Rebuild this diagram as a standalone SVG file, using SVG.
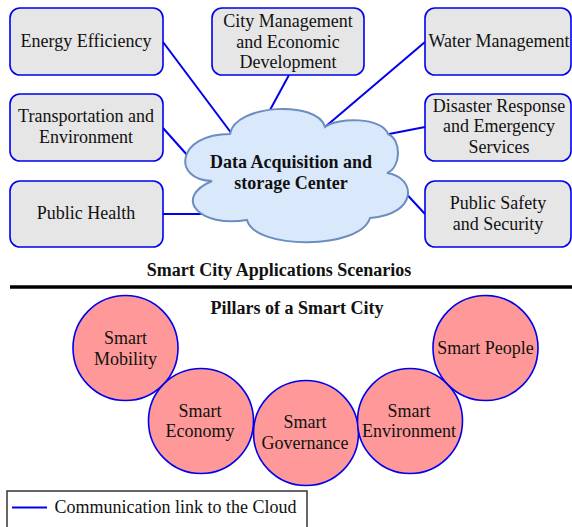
<svg xmlns="http://www.w3.org/2000/svg" width="572" height="527" viewBox="0 0 572 527">
  <style>
    .box { fill: #e6e6e6; stroke: #0000ee; stroke-width: 1.6; }
    .txt { font-family: "Liberation Serif", "Times New Roman", serif; font-size: 18px; fill: #111; text-anchor: middle; }
    .bold { font-weight: bold; }
    .link { stroke: #0000ee; stroke-width: 2; fill: none; }
    .pillar { fill: #ff9999; stroke: #0000ee; stroke-width: 1.6; }
  </style>
  <rect width="572" height="527" fill="#ffffff"/>

  <!-- links from each application area to the cloud -->
  <g id="connectors">
    <line class="link" x1="163" y1="42" x2="232" y2="134"/>
    <line class="link" x1="289" y1="75" x2="270" y2="110"/>
    <line class="link" x1="163" y1="128" x2="188" y2="156"/>
    <line class="link" x1="163" y1="214" x2="204" y2="214"/>
    <line class="link" x1="425" y1="42" x2="325" y2="127"/>
    <line class="link" x1="425" y1="127" x2="389" y2="134"/>
    <line class="link" x1="425" y1="214" x2="387" y2="173"/>
  </g>

  <!-- central cloud -->
  <g id="cloud">
    <path d="M230,134 C235,104 318,100 325,127 C338,117 382,117 388,134 C402,140 401,168 387,173 C416,177 419,214 370,218 C360,250 255,250 247,220 C200,228 172,198 212,181 C172,180 176,134 230,134 Z" fill="#dae8fc" stroke="#6c8ebf" stroke-width="2"/>
    <text class="txt bold" x="291" y="168">Data Acquisition and</text>
    <text class="txt bold" x="291" y="189">storage Center</text>
  </g>

  <g id="energy">
    <rect class="box" x="10" y="8" width="153" height="67" rx="10"/>
    <text class="txt" x="86" y="47">Energy Efficiency</text>
  </g>
  <g id="transport">
    <rect class="box" x="10" y="94" width="153" height="67" rx="10"/>
    <text class="txt" x="86" y="122">Transportation and</text>
    <text class="txt" x="86" y="143">Environment</text>
  </g>
  <g id="health">
    <rect class="box" x="10" y="181" width="153" height="66" rx="10"/>
    <text class="txt" x="86" y="219">Public Health</text>
  </g>
  <g id="city">
    <rect class="box" x="212" y="8" width="152" height="67" rx="10"/>
    <text class="txt" x="288" y="27">City Management</text>
    <text class="txt" x="288" y="47.5">and Economic</text>
    <text class="txt" x="288" y="68">Development</text>
  </g>
  <g id="water">
    <rect class="box" x="425" y="8" width="146" height="67" rx="10"/>
    <text class="txt" x="499" y="47">Water Management</text>
  </g>
  <g id="disaster">
    <rect class="box" x="425" y="94" width="146" height="67" rx="10"/>
    <text class="txt" x="499" y="111.5">Disaster Response</text>
    <text class="txt" x="499" y="132">and Emergency</text>
    <text class="txt" x="499" y="152.5">Services</text>
  </g>
  <g id="safety">
    <rect class="box" x="425" y="181" width="146" height="66" rx="10"/>
    <text class="txt" x="498" y="208.5">Public Safety</text>
    <text class="txt" x="498" y="229.5">and Security</text>
  </g>

  <!-- section heading and divider -->
  <text class="txt bold" x="279" y="276">Smart City Applications Scenarios</text>
  <line x1="10" y1="287" x2="572" y2="287" stroke="#000" stroke-width="3.5"/>
  <text class="txt bold" x="297" y="314">Pillars of a Smart City</text>

  <!-- pillars -->
  <g id="mobility">
    <circle class="pillar" cx="125.5" cy="348" r="52.5"/>
    <text class="txt" x="125.5" y="344">Smart</text>
    <text class="txt" x="125.5" y="365">Mobility</text>
  </g>
  <g id="economy">
    <circle class="pillar" cx="201" cy="421" r="52.5"/>
    <text class="txt" x="200" y="416.5">Smart</text>
    <text class="txt" x="200" y="437">Economy</text>
  </g>
  <g id="governance">
    <circle class="pillar" cx="306" cy="433" r="52.5"/>
    <text class="txt" x="305" y="428">Smart</text>
    <text class="txt" x="305" y="449">Governance</text>
  </g>
  <g id="environment">
    <circle class="pillar" cx="410" cy="421" r="52.5"/>
    <text class="txt" x="409" y="416.5">Smart</text>
    <text class="txt" x="409" y="437">Environment</text>
  </g>
  <g id="people">
    <circle class="pillar" cx="485.5" cy="348" r="52.5"/>
    <text class="txt" x="485.5" y="354">Smart People</text>
  </g>

  <!-- legend -->
  <g id="legend">
    <rect x="7" y="491" width="300" height="50" fill="#fff" stroke="#333" stroke-width="1.5"/>
    <line class="link" x1="12" y1="507.5" x2="47" y2="507.5"/>
    <text class="txt" x="54.5" y="512.5" style="text-anchor:start">Communication link to the Cloud</text>
  </g>
</svg>
